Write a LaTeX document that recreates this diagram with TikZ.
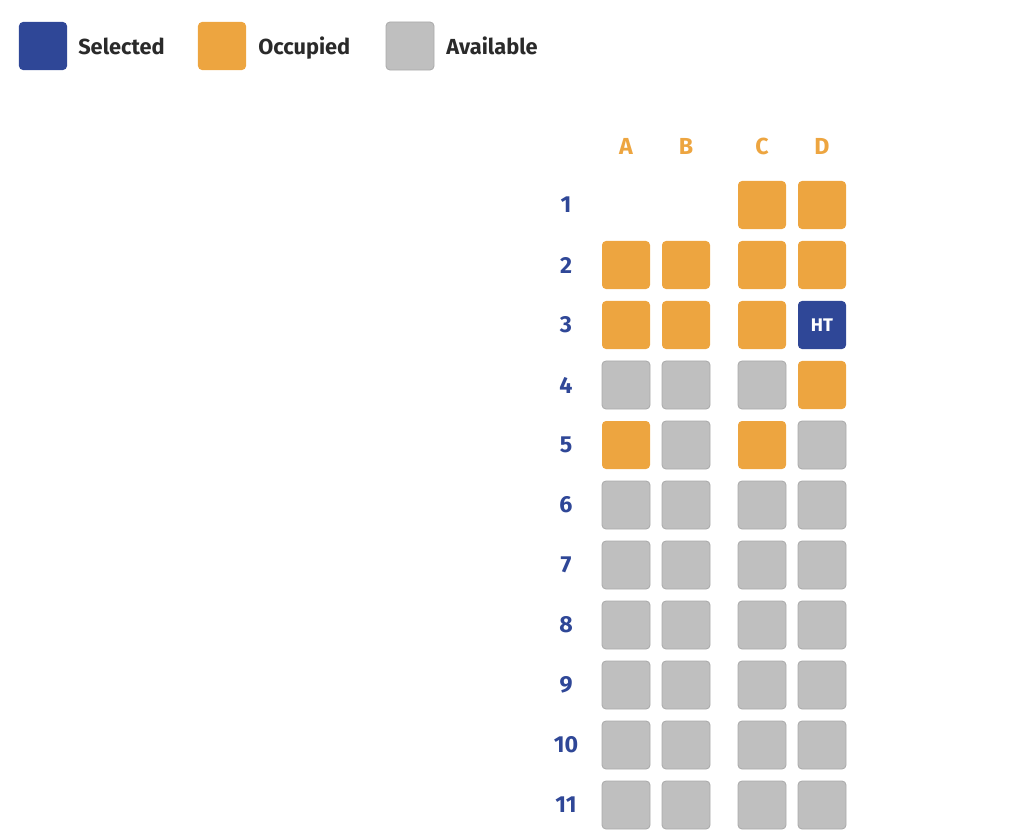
\documentclass[tikz,border=0pt]{standalone}
\usepackage{fontspec}
\setmainfont{Fira Sans}
\definecolor{selblue}{HTML}{2F4797}
\definecolor{occorange}{HTML}{EDA540}
\definecolor{freegray}{HTML}{BFBFBF}
\definecolor{freeedge}{HTML}{ABABAB}
\definecolor{labeltext}{HTML}{2A2A2A}
\tikzset{
  seat/.style={rectangle, rounded corners=0.1cm, minimum size=1.2cm, inner sep=0pt},
  selected/.style={seat, fill=selblue, text=white, font=\bfseries\fontsize{13}{15}\selectfont},
  occupied/.style={seat, fill=occorange},
  available/.style={seat, fill=freegray, draw=freeedge, line width=0.6pt},
  legendtext/.style={anchor=base west, inner sep=0pt, text=labeltext, font=\bfseries\fontsize{15.5}{18}\selectfont},
  rowlabel/.style={text=selblue, font=\bfseries\fontsize{16.5}{19}\selectfont},
  collabel/.style={text=occorange, font=\bfseries\fontsize{16.5}{19}\selectfont}
}
\begin{document}
\begin{tikzpicture}[x=0.025cm, y=-0.025cm]
        \useasboundingbox (0,0) rectangle (1024,835);
        % legend
        \node[selected] (keysel) at (43,46) {};
        \node[legendtext] (keyseltxt) at (78,54) {Selected};
        \node[occupied] (keyocc) at (222,46) {};
        \node[legendtext] (keyocctxt) at (258,54) {Occupied};
        \node[available] (keyfree) at (410,46) {};
        \node[legendtext] (keyfreetxt) at (446,54) {Available};
        % column letters
        \node[collabel] (hA) at (626,146) {A};
        \node[collabel] (hB) at (686,146) {B};
        \node[collabel] (hC) at (762,146) {C};
        \node[collabel] (hD) at (822,146) {D};
        % row numbers
        \node[rowlabel] (r1) at (566,205) {1};
        \node[rowlabel] (r2) at (566,265) {2};
        \node[rowlabel] (r3) at (566,325) {3};
        \node[rowlabel] (r4) at (566,385) {4};
        \node[rowlabel] (r5) at (566,445) {5};
        \node[rowlabel] (r6) at (566,505) {6};
        \node[rowlabel] (r7) at (566,565) {7};
        \node[rowlabel] (r8) at (566,625) {8};
        \node[rowlabel] (r9) at (566,685) {9};
        \node[rowlabel] (r10) at (566,745) {10};
        \node[rowlabel] (r11) at (566,805) {11};
        % seats
        \node[occupied] (s1C) at (762,205) {}; \node[occupied] (s1D) at (822,205) {};
        \node[occupied] (s2A) at (626,265) {}; \node[occupied] (s2B) at (686,265) {};
        \node[occupied] (s2C) at (762,265) {}; \node[occupied] (s2D) at (822,265) {};
        \node[occupied] (s3A) at (626,325) {}; \node[occupied] (s3B) at (686,325) {};
        \node[occupied] (s3C) at (762,325) {}; \node[selected] (s3D) at (822,325) {HT};
        \node[available] (s4A) at (626,385) {}; \node[available] (s4B) at (686,385) {};
        \node[available] (s4C) at (762,385) {}; \node[occupied] (s4D) at (822,385) {};
        \node[occupied] (s5A) at (626,445) {}; \node[available] (s5B) at (686,445) {};
        \node[occupied] (s5C) at (762,445) {}; \node[available] (s5D) at (822,445) {};
        \node[available] (s6A) at (626,505) {}; \node[available] (s6B) at (686,505) {};
        \node[available] (s6C) at (762,505) {}; \node[available] (s6D) at (822,505) {};
        \node[available] (s7A) at (626,565) {}; \node[available] (s7B) at (686,565) {};
        \node[available] (s7C) at (762,565) {}; \node[available] (s7D) at (822,565) {};
        \node[available] (s8A) at (626,625) {}; \node[available] (s8B) at (686,625) {};
        \node[available] (s8C) at (762,625) {}; \node[available] (s8D) at (822,625) {};
        \node[available] (s9A) at (626,685) {}; \node[available] (s9B) at (686,685) {};
        \node[available] (s9C) at (762,685) {}; \node[available] (s9D) at (822,685) {};
        \node[available] (s10A) at (626,745) {}; \node[available] (s10B) at (686,745) {};
        \node[available] (s10C) at (762,745) {}; \node[available] (s10D) at (822,745) {};
        \node[available] (s11A) at (626,805) {}; \node[available] (s11B) at (686,805) {};
        \node[available] (s11C) at (762,805) {}; \node[available] (s11D) at (822,805) {};
\end{tikzpicture}
\end{document}
